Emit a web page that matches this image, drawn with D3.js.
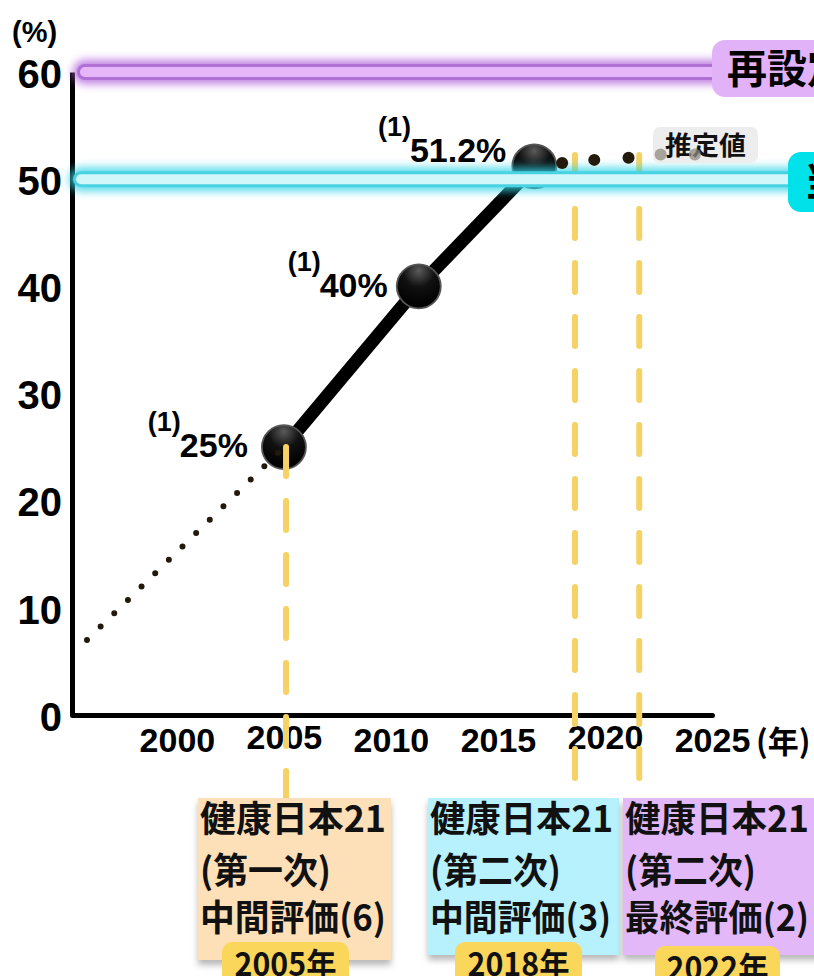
<!DOCTYPE html>
<html><head><meta charset="utf-8">
<script src="https://cdn.jsdelivr.net/npm/d3@7"></script>
<style>
html,body{margin:0;padding:0;background:#fff;}
svg{display:block;}
</style></head>
<body>
<svg id="c" width="814" height="976"></svg>
<script>
// ---------- data ----------
const yTicks = [0, 10, 20, 30, 40, 50, 60];
const xTicks = [2000, 2005, 2010, 2015, 2020, 2025];
const measuredYears = [2005, 2011.3, 2016.7];
const measuredValues = [25, 40, 51.2];
const measuredLabels = ["25%", "40%", "51.2%"];
const measuredRefs = ["(1)", "(1)", "(1)"];
const backcastYears = [1995.8, 2005];
const backcastValues = [7.0, 25];
const estimateYears = [2018.0, 2019.5, 2021.1, 2022.6, 2024.2];
const estimateValues = [51.5, 51.8, 52.0, 52.3, 52.3];
const estimateDark = [true, true, true, false, false];
const targetValues = [60, 50];
const targetLabels = ["再設定目標", "当初目標"];
const baselineValue = 20;
const evalLineYears = [2005.1, 2018.6, 2021.6];
const evalTitles = ["健康日本21", "健康日本21", "健康日本21"];
const evalPhases = ["(第一次)", "(第二次)", "(第二次)"];
const evalKinds = ["中間評価(6)", "中間評価(3)", "最終評価(2)"];
const evalYearLabels = ["2005年", "2018年", "2022年"];

// ---------- setup ----------
const svg = d3.select("#c");
const x = d3.scaleLinear().domain([1995.1, 2025]).range([72, 712]);
const y = d3.scaleLinear().domain([0, 60]).range([715, 72]);
const LAT = "'Liberation Sans', Arial, Helvetica, sans-serif";
const CJK = "'Noto Sans CJK JP', 'Noto Sans', sans-serif";

const defs = svg.append("defs");
const glow = defs.append("filter").attr("id", "glow").attr("filterUnits", "userSpaceOnUse")
  .attr("x", 0).attr("y", 0).attr("width", 814).attr("height", 976);
glow.append("feGaussianBlur").attr("stdDeviation", 4);
const shadow = defs.append("filter").attr("id", "shadow").attr("x", "-10%").attr("y", "-10%").attr("width", "130%").attr("height", "130%");
shadow.append("feDropShadow").attr("dx", 0).attr("dy", 5).attr("stdDeviation", 3).attr("flood-color", "#000").attr("flood-opacity", 0.28);
const pinkGrad = defs.append("linearGradient").attr("id", "pink").attr("x1", "0").attr("x2", "1").attr("y1", "0").attr("y2", "0");
pinkGrad.append("stop").attr("offset", "0").attr("stop-color", "#f5238c");
pinkGrad.append("stop").attr("offset", "0.5").attr("stop-color", "#f66078");
pinkGrad.append("stop").attr("offset", "1").attr("stop-color", "#fdab5c");
const ballGrad = defs.append("radialGradient").attr("id", "ball").attr("cx", "0.5").attr("cy", "0.15").attr("r", "0.8");
ballGrad.append("stop").attr("offset", "0").attr("stop-color", "#5a5a5a");
ballGrad.append("stop").attr("offset", "0.45").attr("stop-color", "#111");
ballGrad.append("stop").attr("offset", "1").attr("stop-color", "#000");

// ---------- baseline pink line ----------
svg.append("line")
  .attr("x1", x.range()[0] + 2).attr("x2", 814)
  .attr("y1", y(baselineValue)).attr("y2", y(baselineValue))
  .attr("stroke", "url(#pink)").attr("stroke-width", 15);

// ---------- axes ----------
const yAxis = svg.append("g").attr("transform", `translate(${x.range()[0]},0)`)
  .call(d3.axisLeft(y).tickValues(yTicks).tickSize(0).tickSizeOuter(0).tickPadding(10));
yAxis.select(".domain").attr("stroke", "#000").attr("stroke-width", 5);
yAxis.selectAll("text").attr("font-family", LAT).attr("font-weight", 700).attr("font-size", 40).attr("fill", "#000").attr("dy", "0.38em");

const xAxis = svg.append("g").attr("transform", `translate(0,${y(0)})`)
  .call(d3.axisBottom(x).tickValues(xTicks).tickFormat(d3.format("d")).tickSize(0).tickSizeOuter(0).tickPadding(13));
xAxis.select(".domain").attr("stroke", "#000").attr("stroke-width", 5).attr("stroke-linecap", "round");
xAxis.selectAll("text").attr("font-family", LAT).attr("font-weight", 700).attr("font-size", 34).attr("fill", "#000")
  .attr("transform", d => (d === 2005 || d === 2020) ? "translate(0,-3)" : null);

svg.append("text").text("(%)").attr("x", 12).attr("y", 42)
  .attr("font-family", LAT).attr("font-weight", 700).attr("font-size", 29);
svg.append("text").text("(年)").attr("x", x(2025) + 44).attr("y", y(0) + 38)
  .attr("font-family", CJK).attr("font-weight", 700).attr("font-size", 31);

// ---------- measured line & balls ----------
const pts = measuredYears.map((d, i) => [x(d), y(measuredValues[i])]);
svg.append("path").attr("d", d3.line()(pts)).attr("fill", "none")
  .attr("stroke", "#000").attr("stroke-width", 13);
svg.selectAll("circle.ball").data(pts).join("circle").attr("class", "ball")
  .attr("cx", d => d[0]).attr("cy", d => d[1]).attr("r", 22)
  .attr("fill", "url(#ball)").attr("stroke", "#555").attr("stroke-width", 1.8);

// ---------- backcast dotted line ----------
const bpts = backcastYears.map((d, i) => [x(d), y(backcastValues[i])]);
svg.append("path").attr("d", d3.line()(bpts)).attr("fill", "none")
  .attr("stroke", "#22190b").attr("stroke-width", 6).attr("stroke-linecap", "round")
  .attr("stroke-dasharray", "0,19.1");

// ---------- evaluation dashed lines ----------
const evalTop = [y(measuredValues[0]), 155, 155];
const evalBottom = [798, 790, 790];
svg.selectAll("line.eval").data(evalLineYears).join("line").attr("class", "eval")
  .attr("x1", d => x(d)).attr("x2", d => x(d))
  .attr("y1", (d, i) => evalTop[i]).attr("y2", (d, i) => evalBottom[i])
  .attr("stroke", "#f6d163").attr("stroke-width", 6).attr("stroke-linecap", "round")
  .attr("stroke-dasharray", "29,25");

// ---------- target neon lines ----------
const neon = [
  {glow: "#b060dc", outer: "#b070d4", inner: "#e6b6fa", x1: 85, x2: 760, box: "#e2b2f8", bx: 712, by: 40, bh: 57, fs: 40, tx: 727},
  {glow: "#30d4e6", outer: "#48d3e2", inner: "#d2f7fb", x1: 81, x2: 800, box: "#00e1ea", bx: 788, by: 152, bh: 60, fs: 40, tx: 804}
];
targetValues.forEach((v, i) => {
  const n = neon[i], yy = y(v);
  const g = svg.append("g");
  g.append("line").attr("x1", n.x1).attr("x2", n.x2).attr("y1", yy).attr("y2", yy)
    .attr("stroke", n.glow).attr("stroke-width", 24).attr("stroke-linecap", "round")
    .attr("opacity", 0.8).attr("filter", "url(#glow)");
  g.append("line").attr("x1", n.x1).attr("x2", n.x2).attr("y1", yy).attr("y2", yy)
    .attr("stroke", n.outer).attr("stroke-width", 16).attr("stroke-linecap", "round");
  g.append("line").attr("x1", n.x1).attr("x2", n.x2).attr("y1", yy).attr("y2", yy)
    .attr("stroke", n.inner).attr("stroke-width", 10).attr("stroke-linecap", "round");
  g.append("rect").attr("x", n.bx).attr("y", n.by).attr("width", 140).attr("height", n.bh)
    .attr("rx", 13).attr("fill", n.box);
  g.append("text").text(targetLabels[i]).attr("x", n.tx).attr("y", n.by + n.bh / 2 + 0.36 * n.fs)
    .attr("font-family", CJK).attr("font-weight", 700).attr("font-size", n.fs).attr("fill", "#000");
});

// ---------- estimate dots ----------
svg.append("rect").attr("x", 653).attr("y", 127).attr("width", 105).attr("height", 36)
  .attr("rx", 7).attr("fill", "#ededed");
svg.append("text").text("推定値").attr("x", 665).attr("y", 154.5)
  .attr("font-family", CJK).attr("font-weight", 700).attr("font-size", 26)
  .attr("textLength", 81).attr("lengthAdjust", "spacingAndGlyphs").attr("fill", "#111");
svg.selectAll("circle.est").data(estimateYears).join("circle").attr("class", "est")
  .attr("cx", d => x(d)).attr("cy", (d, i) => y(estimateValues[i])).attr("r", 6)
  .attr("fill", (d, i) => estimateDark[i] ? "#231a0b" : "#8f8a82")
  .attr("opacity", (d, i) => estimateDark[i] ? 1 : 0.75);

// ---------- value labels ----------
const labelDx = [-36, -31, -28];
const labelDy = [10, 11, -4.5];
pts.forEach((p, i) => {
  const t = svg.append("text").text(measuredLabels[i])
    .attr("x", p[0] + labelDx[i]).attr("y", p[1] + labelDy[i]).attr("text-anchor", "end")
    .attr("font-family", LAT).attr("font-weight", 700).attr("font-size", 34).attr("fill", "#000");
  const w = t.node().getComputedTextLength();
  svg.append("text").text(measuredRefs[i])
    .attr("x", p[0] + labelDx[i] - w + 1).attr("y", p[1] + labelDy[i] - 26).attr("text-anchor", "end")
    .attr("font-family", LAT).attr("font-weight", 700).attr("font-size", 27).attr("fill", "#000");
});

// ---------- evaluation boxes ----------
const boxes = [
  {x: 198, w: 193, h: 162, fill: "#fee0b8", tw: [186, 131, 186], bx: 222, bw: 127, by: 942},
  {x: 428, w: 191, h: 157, fill: "#b7f1fd", tw: [183, 131, 181], bx: 455, bw: 127, by: 942},
  {x: 623, w: 200, h: 157, fill: "#e2b8f9", tw: [184, 131, 184], bx: 655, bw: 125, by: 946}
];
const lineBase = [832, 884, 931];
boxes.forEach((b, i) => {
  const g = svg.append("g");
  g.append("rect").attr("x", b.x).attr("y", 798).attr("width", b.w).attr("height", b.h)
    .attr("fill", b.fill).attr("filter", "url(#shadow)");
  [evalTitles[i], evalPhases[i], evalKinds[i]].forEach((s, k) => {
    g.append("text").text(s).attr("x", b.x + 2).attr("y", lineBase[k])
      .attr("font-family", CJK).attr("font-weight", 700).attr("font-size", 36)
      .attr("textLength", b.tw[k]).attr("lengthAdjust", "spacingAndGlyphs").attr("fill", "#111");
  });
  g.append("rect").attr("x", b.bx).attr("y", b.by).attr("width", b.bw).attr("height", 50)
    .attr("rx", 10).attr("fill", "#fad75a");
  g.append("text").text(evalYearLabels[i]).attr("x", b.bx + b.bw / 2).attr("y", b.by + 33.5)
    .attr("text-anchor", "middle")
    .attr("font-family", CJK).attr("font-weight", 700).attr("font-size", 32)
    .attr("textLength", 102).attr("lengthAdjust", "spacingAndGlyphs").attr("fill", "#111");
});
</script>
</body></html>
